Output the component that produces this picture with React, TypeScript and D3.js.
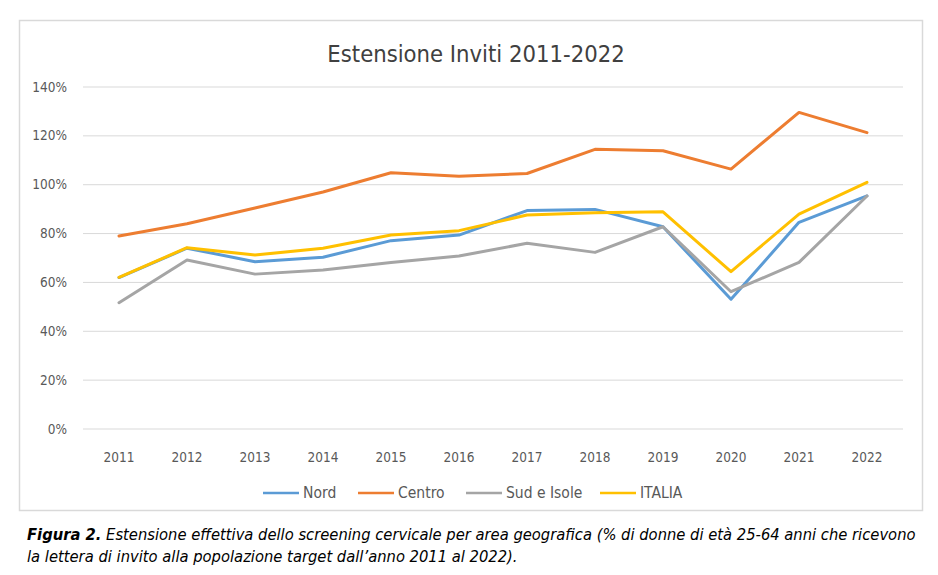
import React from "react";
import * as d3 from "d3";

const years = ["2011","2012","2013","2014","2015","2016","2017","2018","2019","2020","2021","2022"];
const nord = [62, 74, 68.5, 70.3, 77.1, 79.4, 89.4, 89.9, 82.8, 53.1, 84.6, 95.4];
const centro = [79, 84, 90.5, 97, 104.9, 103.5, 104.6, 114.5, 113.9, 106.4, 129.6, 121.3];
const sud = [51.7, 69.2, 63.4, 65.1, 68.2, 70.8, 76, 72.3, 82.8, 56.2, 68.2, 95.4];
const italia = [62.1, 74.2, 71.2, 74, 79.4, 81.2, 87.6, 88.5, 88.9, 64.4, 88, 101];
const yTicks = [0, 20, 40, 60, 80, 100, 120, 140];

const seriesNames = ["Nord", "Centro", "Sud e Isole", "ITALIA"];
const seriesData = [nord, centro, sud, italia];
const colors = ["#5B9BD5", "#ED7D31", "#A5A5A5", "#FFC000"];

const W = 938, H = 575;
const FONT = "'DejaVu Sans Condensed', 'DejaVu Sans', sans-serif";
const cond: React.CSSProperties = { fontStretch: "condensed" };

export default function App() {
  const x = d3.scaleBand<string>().domain(years).range([85, 901]);
  const y = d3.scaleLinear().domain([0, 140]).range([429, 87]);
  const line = d3.line<number>()
    .x((_, i) => (x(years[i]) as number) + x.bandwidth() / 2)
    .y((d) => y(d));

  const legendX = [263, 358, 466, 600];

  return (
    <svg width={W} height={H} style={{ position: "absolute", left: 0, top: 0, background: "#fff" }}>
      <rect x={0} y={0} width={W} height={H} fill="#fff" />
      <rect x={19.5} y={20.5} width={903} height={490} fill="#fff" stroke="#d9d9d9" strokeWidth={1.5} />
      <text x={476} y={62} textAnchor="middle" fontFamily={FONT} fontSize={23.6} fill="#404040" style={cond}>
        Estensione Inviti 2011-2022
      </text>
      {yTicks.map((t) => (
        <g key={t}>
          <line x1={83} x2={903} y1={y(t)} y2={y(t)} stroke="#d9d9d9" strokeWidth={1} />
          <text x={67} y={y(t) + 4.5} textAnchor="end" fontFamily={FONT} fontSize={13.5} fill="#595959" style={cond}>
            {t}%
          </text>
        </g>
      ))}
      {years.map((yr) => (
        <text key={yr} x={(x(yr) as number) + x.bandwidth() / 2} y={462} textAnchor="middle" fontFamily={FONT} fontSize={13.5} fill="#595959" style={cond}>
          {yr}
        </text>
      ))}
      {seriesData.map((s, i) => (
        <path key={seriesNames[i]} d={line(s) as string} fill="none" stroke={colors[i]} strokeWidth={3} strokeLinejoin="round" strokeLinecap="round" />
      ))}
      {seriesNames.map((n, i) => (
        <g key={n}>
          <line x1={legendX[i]} x2={legendX[i] + 36} y1={493} y2={493} stroke={colors[i]} strokeWidth={2.5} />
          <text x={legendX[i] + 40} y={498} fontFamily={FONT} fontSize={15.5} fill="#595959" style={cond}>
            {n}
          </text>
        </g>
      ))}
      <text x={27} y={540} fontFamily={FONT} fontSize={16.4} fontStyle="italic" fill="#000" style={cond}>
        <tspan fontWeight="bold">Figura 2.</tspan>
        <tspan> Estensione effettiva dello screening cervicale per area geografica (% di donne di età 25-64 anni che ricevono</tspan>
      </text>
      <text x={27} y={562} fontFamily={FONT} fontSize={16.4} fontStyle="italic" fill="#000" style={cond}>
        la lettera di invito alla popolazione target dall’anno 2011 al 2022).
      </text>
    </svg>
  );
}
